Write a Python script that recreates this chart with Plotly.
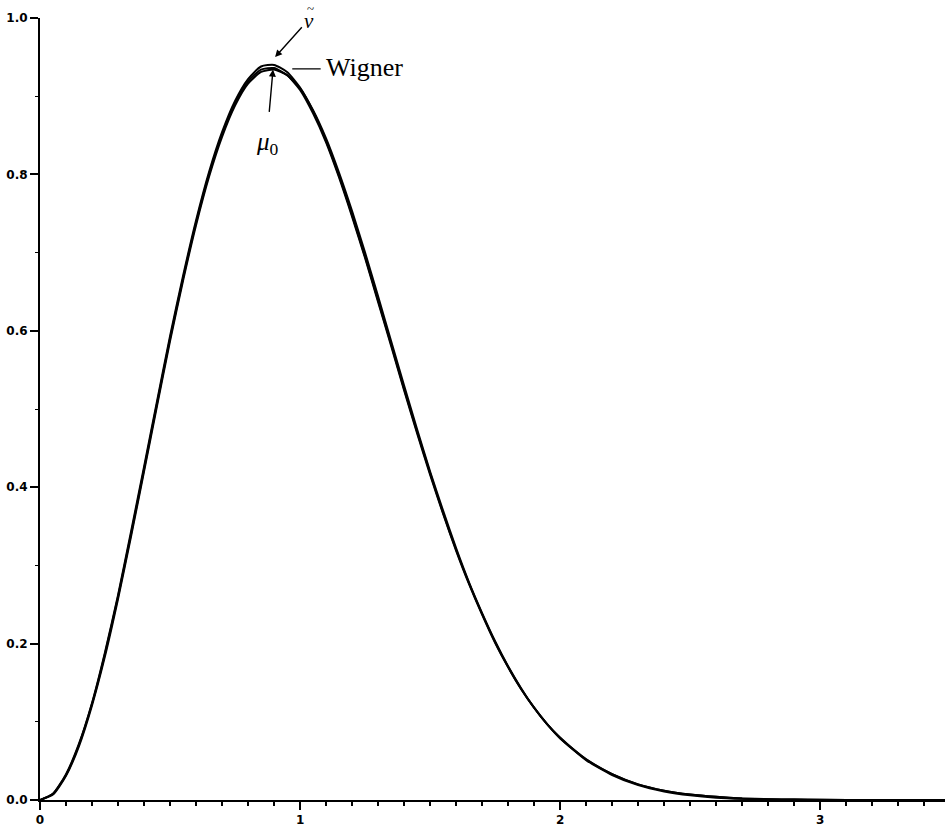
import plotly.graph_objects as go

# spacing values s
s_vals = [0.00, 0.05, 0.10, 0.15, 0.20, 0.25, 0.30, 0.35, 0.40, 0.45,
          0.50, 0.55, 0.60, 0.65, 0.70, 0.75, 0.80, 0.85, 0.90, 0.95,
          1.00, 1.05, 1.10, 1.15, 1.20, 1.25, 1.30, 1.35, 1.40, 1.45,
          1.50, 1.55, 1.60, 1.65, 1.70, 1.75, 1.80, 1.85, 1.90, 1.95,
          2.00, 2.10, 2.20, 2.30, 2.40, 2.50, 2.60, 2.70, 2.80, 2.90,
          3.00, 3.20, 3.48]

wigner = [0, 0.008, 0.032, 0.071, 0.123, 0.187, 0.260, 0.340, 0.423, 0.507,
          0.590, 0.667, 0.738, 0.800, 0.851, 0.891, 0.919, 0.934, 0.936, 0.927,
          0.908, 0.878, 0.841, 0.796, 0.746, 0.693, 0.637, 0.581, 0.524, 0.469,
          0.416, 0.366, 0.319, 0.276, 0.237, 0.201, 0.170, 0.142, 0.118, 0.097,
          0.080, 0.052, 0.033, 0.020, 0.012, 0.007, 0.004, 0.002, 0.001, 0.0006,
          0.0003, 0.00006, 0.00001]

mu0 = [0, 0.007, 0.031, 0.069, 0.121, 0.184, 0.257, 0.337, 0.420, 0.504,
       0.587, 0.664, 0.735, 0.797, 0.848, 0.888, 0.916, 0.931, 0.934, 0.927,
       0.910, 0.882, 0.846, 0.802, 0.753, 0.700, 0.644, 0.587, 0.530, 0.474,
       0.420, 0.370, 0.322, 0.278, 0.239, 0.203, 0.171, 0.143, 0.118, 0.097,
       0.079, 0.051, 0.032, 0.019, 0.011, 0.006, 0.003, 0.0015, 0.0007, 0.0003,
       0.0001, 0.00002, 0]

nu_tilde = [0, 0.008, 0.033, 0.072, 0.124, 0.189, 0.262, 0.343, 0.426, 0.510,
            0.593, 0.670, 0.741, 0.803, 0.854, 0.894, 0.922, 0.938, 0.940, 0.931,
            0.911, 0.881, 0.843, 0.798, 0.748, 0.695, 0.639, 0.583, 0.526, 0.471,
            0.418, 0.367, 0.320, 0.277, 0.238, 0.202, 0.170, 0.142, 0.118, 0.097,
            0.079, 0.052, 0.033, 0.020, 0.012, 0.007, 0.004, 0.002, 0.001, 0.0005,
            0.0002, 0.00004, 0]

x_ticks = [0, 1, 2, 3]
x_tick_labels = ["0", "1", "2", "3"]
y_ticks = [0.0, 0.2, 0.4, 0.6, 0.8, 1.0]
y_tick_labels = ["0.0", "0.2", "0.4", "0.6", "0.8", "1.0"]

fig = go.Figure()
for name, ys in [("Wigner", wigner), ("mu0", mu0), ("nu", nu_tilde)]:
    fig.add_trace(go.Scatter(x=s_vals, y=ys, mode="lines", name=name,
                             line=dict(color="black", width=2.0, shape="spline", smoothing=0.6),
                             showlegend=False, hoverinfo="skip"))

serif = "Liberation Serif, Times New Roman, serif"
annotations = [
    # nu tilde arrow + label (nu with a tilde accent above it)
    dict(x=0.904, y=0.950, ax=1.012, ay=0.990, xref="x", yref="y", axref="x", ayref="y",
         text="", showarrow=True, arrowhead=2, arrowsize=1.0, arrowwidth=1.4, arrowcolor="black"),
    dict(x=1.033, y=0.9965, xref="x", yref="paper", yanchor="middle", text="<i>ν</i>",
         showarrow=False, font=dict(family=serif, size=21, color="black")),
    dict(x=1.041, y=1.0125, xref="x", yref="paper", yanchor="middle", text="~",
         showarrow=False, font=dict(family=serif, size=13, color="black")),
    # Wigner line + label
    dict(x=0.97, y=0.935, ax=1.085, ay=0.935, xref="x", yref="y", axref="x", ayref="y",
         text="", showarrow=True, arrowhead=0, arrowwidth=1.4, arrowcolor="black"),
    dict(x=1.093, y=0.937, xref="x", yref="y", text="Wigner", showarrow=False, xanchor="left",
         font=dict(family=serif, size=26, color="black")),
    # mu0 arrow + label
    dict(x=0.896, y=0.934, ax=0.881, ay=0.878, xref="x", yref="y", axref="x", ayref="y",
         text="", showarrow=True, arrowhead=2, arrowsize=1.0, arrowwidth=1.4, arrowcolor="black"),
    dict(x=0.875, y=0.840, xref="x", yref="y", text="<i>μ</i><sub>0</sub>", showarrow=False,
         font=dict(family=serif, size=25, color="black")),
]

tickfont = dict(family="DejaVu Sans, sans-serif", size=12, color="black", weight="bold")
fig.update_layout(
    width=945, height=831,
    margin=dict(l=40, r=0, t=18, b=31),
    paper_bgcolor="white", plot_bgcolor="white",
    annotations=annotations,
    xaxis=dict(range=[0, 3.48], showgrid=False, zeroline=False, showline=True,
               linecolor="black", linewidth=2, ticks="outside", ticklen=8, tickwidth=2,
               tickcolor="black", tickvals=x_ticks, ticktext=x_tick_labels, tickfont=tickfont,
               minor=dict(dtick=0.1, ticks="outside", ticklen=4, tickwidth=1.5, tickcolor="black",
                          showgrid=False)),
    yaxis=dict(range=[0, 1.0], showgrid=False, zeroline=False, showline=True,
               linecolor="black", linewidth=2, ticks="outside", ticklen=8, tickwidth=1.5,
               tickcolor="black", tickvals=y_ticks, ticktext=y_tick_labels, tickfont=tickfont,
               minor=dict(dtick=0.1, ticks="outside", ticklen=3, tickwidth=1.2, tickcolor="black",
                          showgrid=False)),
)

fig.write_html("out.html")
